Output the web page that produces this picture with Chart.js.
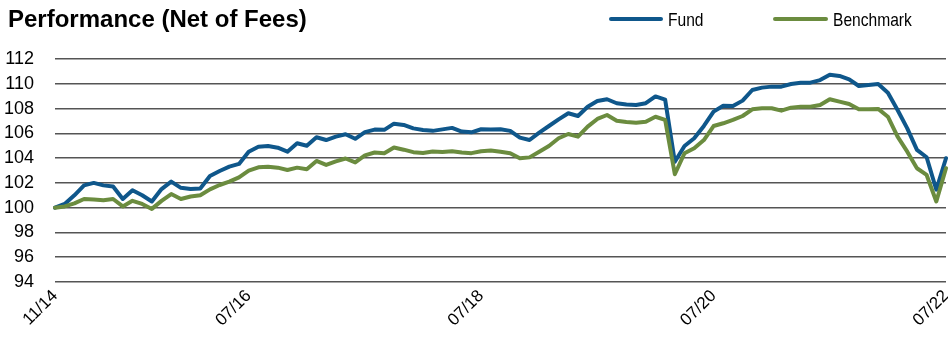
<!DOCTYPE html>
<html>
<head>
<meta charset="utf-8">
<script src="https://cdn.jsdelivr.net/npm/chart.js@4/dist/chart.umd.min.js"></script>
<style>
  html, body { margin: 0; padding: 0; background: #fff; }
  #wrap { position: relative; width: 948px; height: 338px; }
  #title { position: absolute; left: 8px; top: 7px; font: bold 24px/24px "Liberation Sans", Arial, sans-serif; color: #000; white-space: nowrap; }
  .lg-line { position: absolute; top: 17px; height: 4px; border-radius: 2px; }
  .lg-text { position: absolute; top: 10px; font: 19px/19px "Liberation Sans", Arial, sans-serif; color: #000; white-space: nowrap;
             transform: scaleX(0.82); transform-origin: 0 0; }
  canvas { position: absolute; left: 0; top: 0; }
</style>
</head>
<body>
<div id="wrap">
  <canvas id="chart" width="948" height="338"></canvas>
  <div id="title">Performance (Net of Fees)</div>
  <div class="lg-line" style="left:609px;width:54px;background:#0f578b"></div>
  <div class="lg-text" style="left:668px">Fund</div>
  <div class="lg-line" style="left:773px;width:55px;background:#6b8c3f"></div>
  <div class="lg-text" style="left:833px">Benchmark</div>
</div>
<script>
// monthly, 11/14 .. 07/22
const months = [];
for (let y = 2014, m = 11; y < 2022 || (y === 2022 && m <= 7); m++) {
  if (m > 12) { m = 1; y++; }
  months.push(String(m).padStart(2, '0') + '/' + String(y).slice(2));
}

const tickLabels = ['11/14', '07/16', '07/18', '07/20', '07/22'];

const fund = [
  100, 100.3, 101.0, 101.8, 102.0, 101.8, 101.7, 100.7, 101.4, 101.0,
  100.5, 101.5, 102.1, 101.6, 101.5, 101.55, 102.56, 102.96, 103.31, 103.53,
  104.52, 104.92, 104.98, 104.84, 104.52, 105.2, 105.0, 105.68, 105.46, 105.73,
  105.93, 105.56, 106.1, 106.3, 106.28, 106.78, 106.68, 106.4, 106.27, 106.2,
  106.32, 106.44, 106.14, 106.08, 106.33, 106.3, 106.33, 106.2, 105.65, 105.46,
  106.06, 106.59, 107.13, 107.62, 107.4, 108.15, 108.61, 108.75, 108.43, 108.33,
  108.29, 108.43, 108.98, 108.72, 103.7, 104.98, 105.6, 106.6, 107.75, 108.23,
  108.2, 108.64, 109.5, 109.69, 109.77, 109.77, 109.98, 110.09, 110.09, 110.3,
  110.73, 110.63, 110.36, 109.82, 109.9, 109.98, 109.28, 107.88, 106.4, 104.66,
  104.07, 101.45, 103.99
];

const benchmark = [
  100, 100.1, 100.35, 100.7, 100.65, 100.6, 100.7, 100.1, 100.55, 100.3,
  99.9, 100.55, 101.1, 100.7, 100.9, 101.0, 101.48, 101.83, 102.1, 102.45,
  102.99, 103.26, 103.31, 103.23, 103.04, 103.23, 103.1, 103.77, 103.45, 103.74,
  103.97, 103.65, 104.22, 104.45, 104.4, 104.86, 104.68, 104.48, 104.42, 104.53,
  104.5, 104.56, 104.45, 104.4, 104.56, 104.62, 104.52, 104.4, 103.98, 104.06,
  104.52, 104.98, 105.6, 105.95, 105.73, 106.54, 107.16, 107.48, 107.02, 106.92,
  106.86, 106.94, 107.34, 107.08, 102.7, 104.39, 104.79, 105.46, 106.59, 106.81,
  107.08, 107.4, 107.94, 108.02, 108.02, 107.83, 108.07, 108.15, 108.15, 108.29,
  108.75, 108.56, 108.37, 107.94, 107.94, 107.97, 107.34, 105.73, 104.52, 103.18,
  102.64, 100.5, 103.18
];

const sans = '"Liberation Sans", Arial, sans-serif';

new Chart(document.getElementById('chart').getContext('2d'), {
  type: 'line',
  data: {
    labels: months,
    datasets: [
      { label: 'Fund', data: fund, borderColor: '#0f578b', borderWidth: 4, order: 1 },
      { label: 'Benchmark', data: benchmark, borderColor: '#6b8c3f', borderWidth: 4, order: 0 }
    ]
  },
  options: {
    responsive: false,
    animation: false,
    layout: { padding: { top: 59, left: 0, right: 2, bottom: 0 } },
    elements: {
      point: { radius: 0 },
      line: { tension: 0, fill: false, borderJoinStyle: 'round', borderCapStyle: 'round' }
    },
    scales: {
      x: {
        grid: { display: false, drawTicks: false },
        border: { display: false },
        ticks: {
          autoSkip: false,
          minRotation: 45,
          maxRotation: 45,
          padding: 4,
          color: '#000',
          font: { family: sans, size: 17 },
          callback: function (val) {
            const lab = this.getLabelForValue(val);
            return tickLabels.includes(lab) ? lab : '';
          }
        },
        afterFit: (s) => { s.height = 56; s.paddingLeft = 0; s.paddingRight = 0; }
      },
      y: {
        min: 94,
        max: 112,
        grid: { color: '#555', lineWidth: 1.5, drawTicks: false },
        border: { display: false },
        ticks: {
          stepSize: 2,
          autoSkip: false,
          padding: 21,
          color: '#000',
          font: { family: sans, size: 18 }
        },
        afterFit: (s) => { s.width = 55; }
      }
    },
    plugins: {
      legend: { display: false },
      title: { display: false },
      tooltip: { enabled: false }
    }
  }
});
</script>
</body>
</html>
